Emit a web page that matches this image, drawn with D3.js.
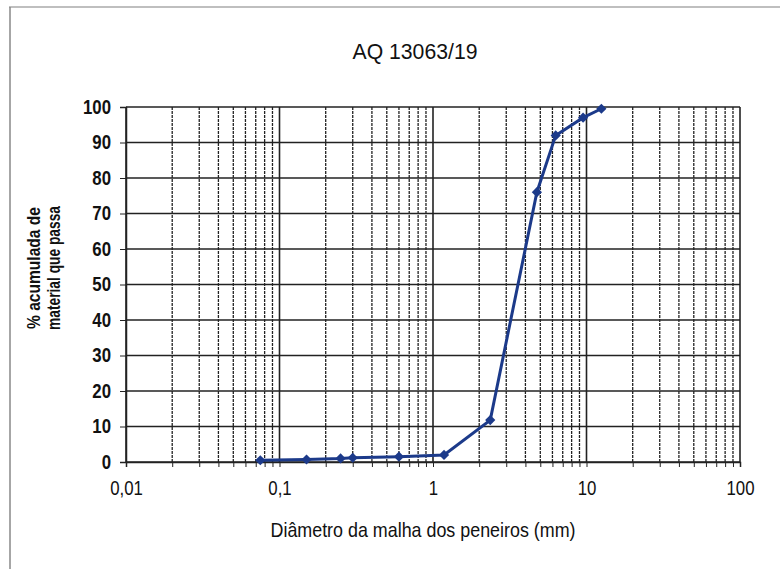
<!DOCTYPE html>
<html>
<head>
<meta charset="utf-8">
<script src="https://cdn.jsdelivr.net/npm/d3@7"></script>
<style>
body { margin: 0; background: #fff; }
text { font-family: "Liberation Sans", Arial, sans-serif; fill: #111; }
</style>
</head>
<body>
<svg width="780" height="569"></svg>
<script>
// sieve openings (mm) and % passing
var diametros = [0.075, 0.15, 0.25, 0.3, 0.6, 1.18, 2.36, 4.75, 6.3, 9.5, 12.5];
var passante  = [0.5, 0.7, 1.0, 1.2, 1.5, 2.0, 11.8, 76, 92, 97, 99.5];
var yTicks = [0, 10, 20, 30, 40, 50, 60, 70, 80, 90, 100];
var xLabels = [0.01, 0.1, 1, 10, 100];

var svg = d3.select("svg");

// squeeze text horizontally, the scan uses a narrow font
function narrow(sel, f) {
    sel.each(function() {
        var w = this.getComputedTextLength();
        if (w > 0) d3.select(this).attr("textLength", w * f).attr("lengthAdjust", "spacingAndGlyphs");
    });
}

// outer chart frame (only top/left visible in the scan)
svg.append("line").attr("x1", 9).attr("y1", 7).attr("x2", 780).attr("y2", 7)
   .attr("stroke", "#aaa").attr("stroke-width", 1.5);
svg.append("line").attr("x1", 10).attr("y1", 7).attr("x2", 10).attr("y2", 569)
   .attr("stroke", "#888").attr("stroke-width", 1.5);

var pLeft = 126, pRight = 740, pTop = 107, pBottom = 462;

var x = d3.scaleLog().domain([0.01, 100]).range([pLeft, pRight]);
var y = d3.scaleLinear().domain([0, 100]).range([pBottom, pTop]);

// vertical grid 1..9 per decade
var vLines = [];
[0.01, 0.1, 1, 10].forEach(function(dec) {
    for (var k = 1; k <= 9; k++) vLines.push(+(dec * k).toPrecision(3));
});
vLines.push(100);

svg.append("g").selectAll("line")
    .data(vLines)
    .enter().append("line")
    .attr("x1", function(d) { return x(d); })
    .attr("x2", function(d) { return x(d); })
    .attr("y1", pTop).attr("y2", pBottom)
    .attr("stroke", "#222")
    .attr("stroke-width", function(d) { return xLabels.indexOf(d) >= 0 ? 1.6 : 1.3; })
    .attr("stroke-dasharray", function(d) { return xLabels.indexOf(d) >= 0 ? null : "3,1"; });

// horizontal grid
svg.append("g").selectAll("line")
    .data(yTicks)
    .enter().append("line")
    .attr("x1", pLeft).attr("x2", pRight)
    .attr("y1", function(d) { return y(d); })
    .attr("y2", function(d) { return y(d); })
    .attr("stroke", "#222")
    .attr("stroke-width", 1.5);

// axes
var yAxis = d3.axisLeft(y).tickValues(yTicks).tickSize(6).tickPadding(9);
svg.append("g")
   .attr("transform", "translate(" + pLeft + ",0)")
   .call(yAxis)
   .call(function(g) {
       g.select(".domain").attr("stroke", "#222").attr("stroke-width", 1.5);
       g.selectAll("line").attr("stroke", "#222");
       g.selectAll("text").style("font-size", "20px").style("font-weight", "bold")
        .style("font-family", "'Liberation Sans', Arial, sans-serif").attr("fill", "#111")
        .call(narrow, 0.84);
   });

var xAxis = d3.axisBottom(x).tickValues(vLines).tickSize(5)
    .tickFormat(function(d) { return xLabels.indexOf(d) >= 0 ? String(d).replace(".", ",") : ""; });
svg.append("g")
   .attr("transform", "translate(0," + pBottom + ")")
   .call(xAxis)
   .call(function(g) {
       g.select(".domain").attr("stroke", "#222").attr("stroke-width", 1.5);
       g.selectAll("line").attr("stroke", "#222");
       g.selectAll("text").attr("y", 33).attr("dy", null).style("font-size", "20px")
        .style("font-family", "'Liberation Sans', Arial, sans-serif").attr("fill", "#111")
        .call(narrow, 0.84);
   });

// data line
var pts = diametros.map(function(d, i) { return [d, passante[i]]; });
var line = d3.line()
    .x(function(d) { return x(d[0]); })
    .y(function(d) { return y(d[1]); });

svg.append("path")
   .datum(pts)
   .attr("d", line)
   .attr("fill", "none")
   .attr("stroke", "#1c3a8a")
   .attr("stroke-width", 3);

svg.append("g").selectAll("path")
   .data(pts)
   .enter().append("path")
   .attr("d", d3.symbol().type(d3.symbolSquare).size(52))
   .attr("transform", function(d) { return "translate(" + x(d[0]) + "," + y(d[1]) + ") rotate(45)"; })
   .attr("fill", "#1c3a8a");

// titles
svg.append("text")
   .attr("x", 415).attr("y", 59)
   .attr("text-anchor", "middle")
   .attr("textLength", 125).attr("lengthAdjust", "spacingAndGlyphs")
   .style("font-size", "22px")
   .text("AQ 13063/19");

svg.append("text")
   .attr("x", 423).attr("y", 537)
   .attr("text-anchor", "middle")
   .attr("textLength", 305).attr("lengthAdjust", "spacingAndGlyphs")
   .style("font-size", "21px")
   .text("Diâmetro da malha dos peneiros (mm)");

var yl = svg.append("text")
   .attr("transform", "translate(40,268) rotate(-90)")
   .attr("text-anchor", "middle")
   .style("font-size", "18px")
   .style("font-weight", "bold");
yl.append("tspan").attr("x", 0).attr("y", 0)
  .attr("textLength", 122).attr("lengthAdjust", "spacingAndGlyphs").text("% acumulada de");
yl.append("tspan").attr("x", 0).attr("y", 20)
  .attr("textLength", 124).attr("lengthAdjust", "spacingAndGlyphs").text("material que passa");
</script>
</body>
</html>
